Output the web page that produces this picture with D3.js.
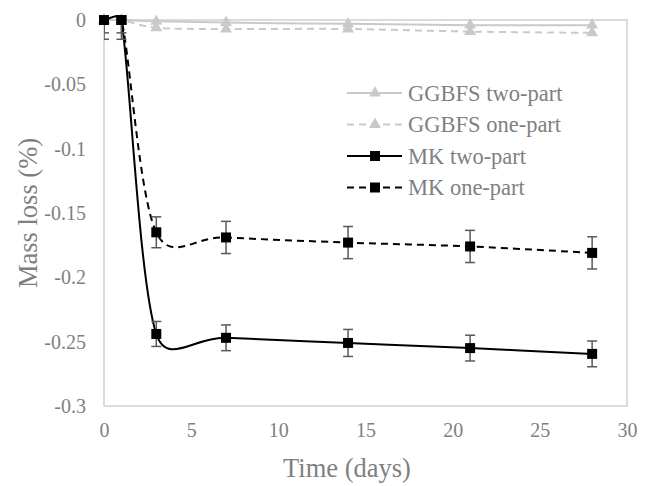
<!DOCTYPE html>
<html>
<head>
<meta charset="utf-8">
<script src="https://cdn.jsdelivr.net/npm/d3@7"></script>
<style>
  body { margin: 0; background: #fff; }
  svg text { font-family: 'Liberation Serif', 'Times New Roman', Times, serif !important; fill: #7f7f7f; }
</style>
</head>
<body>
<div id="chart"></div>
<script>
// data
const days = [0, 1, 3, 7, 14, 21, 28]
const ggbfsTwo = [0, 0, -0.001, -0.002, -0.003, -0.004, -0.004]
const ggbfsOne = [0, 0, -0.006, -0.007, -0.007, -0.009, -0.010]
const mkTwo = [0, 0, -0.244, -0.247, -0.251, -0.255, -0.2595]
const mkTwoErr = [0.01, 0.01, 0.0097, 0.01, 0.0105, 0.01, 0.01]
const mkOne = [0, 0, -0.165, -0.169, -0.173, -0.176, -0.181]
const mkOneErr = [0.015, 0.015, 0.012, 0.0125, 0.0125, 0.0125, 0.0125]
const xTicks = [0, 5, 10, 15, 20, 25, 30]
const yTicks = [0, -0.05, -0.1, -0.15, -0.2, -0.25, -0.3]

const series = [
    { name: "GGBFS two-part", values: ggbfsTwo, err: null, color: "#c9c9c9", dash: null, marker: "triangle" },
    { name: "GGBFS one-part", values: ggbfsOne, err: null, color: "#c9c9c9", dash: "7,5", marker: "triangle" },
    { name: "MK two-part", values: mkTwo, err: mkTwoErr, color: "#000", dash: null, marker: "square" },
    { name: "MK one-part", values: mkOne, err: mkOneErr, color: "#000", dash: "7,5", marker: "square" }
]

const W = 646, H = 486
const MARGIN = { LEFT: 104, RIGHT: 19, TOP: 20, BOTTOM: 80 }
const WIDTH = W - MARGIN.LEFT - MARGIN.RIGHT
const HEIGHT = H - MARGIN.TOP - MARGIN.BOTTOM

const svg = d3.select("#chart").append("svg")
    .attr("width", W)
    .attr("height", H)

const g = svg.append("g")
    .attr("transform", `translate(${MARGIN.LEFT}, ${MARGIN.TOP})`)

const x = d3.scaleLinear().domain([0, 30]).range([0, WIDTH])
const y = d3.scaleLinear().domain([-0.3, 0]).range([HEIGHT, 0])

// plot border
g.append("rect")
    .attr("width", WIDTH)
    .attr("height", HEIGHT)
    .attr("fill", "none")
    .attr("stroke", "#d0d0d0")
    .attr("stroke-width", 1.5)

// axes (labels only, lines come from the border)
const xAxis = g.append("g")
    .attr("transform", `translate(0, ${HEIGHT})`)
    .call(d3.axisBottom(x).tickValues(xTicks).tickSize(0).tickPadding(17).tickFormat(d3.format("d")))
const yAxis = g.append("g")
    .call(d3.axisLeft(y).tickValues(yTicks).tickSize(0).tickPadding(18).tickFormat(d => d === 0 ? "0" : String(d)))
xAxis.select(".domain").remove()
yAxis.select(".domain").remove()
g.selectAll(".tick text")
    .style("font-size", "20px")

// titles
svg.append("text")
    .attr("x", 347)
    .attr("y", 477)
    .attr("text-anchor", "middle")
    .style("font-size", "26.5px")
    .text("Time (days)")
svg.append("text")
    .attr("transform", `translate(37, ${MARGIN.TOP + HEIGHT / 2}) rotate(-90)`)
    .attr("text-anchor", "middle")
    .style("font-size", "26.5px")
    .text("Mass loss (%)")

// clip for error bars
svg.append("defs").append("clipPath").attr("id", "plot-clip")
    .append("rect").attr("width", WIDTH).attr("height", HEIGHT)

// spreadsheet-style smoothed line: bezier arms of 1/6 of the neighbour chord,
// capped at half the segment length
function smoothPath(pts) {
    const p = d3.path()
    const dist = (a, b) => Math.hypot(b[0] - a[0], b[1] - a[1])
    p.moveTo(pts[0][0], pts[0][1])
    for (let i = 0; i < pts.length - 1; i++) {
        const p0 = pts[Math.max(i - 1, 0)], p1 = pts[i], p2 = pts[i + 1], p3 = pts[Math.min(i + 2, pts.length - 1)]
        const d12 = dist(p1, p2), d02 = dist(p0, p2), d13 = dist(p1, p3)
        const f1 = d02 > 0 ? Math.min(1 / 6, 0.5 * d12 / d02) : 0
        const f2 = d13 > 0 ? Math.min(1 / 6, 0.5 * d12 / d13) : 0
        p.bezierCurveTo(
            p1[0] + (p2[0] - p0[0]) * f1, p1[1] + (p2[1] - p0[1]) * f1,
            p2[0] - (p3[0] - p1[0]) * f2, p2[1] - (p3[1] - p1[1]) * f2,
            p2[0], p2[1])
    }
    return p.toString()
}

const triangle = d3.symbol().type(d3.symbolTriangle).size(62)

series.forEach(s => {
    const pts = days.map((d, i) => ({ day: d, v: s.values[i], e: s.err ? s.err[i] : 0 }))

    g.append("path")
        .attr("fill", "none")
        .attr("stroke", s.color)
        .attr("stroke-width", 2)
        .attr("stroke-dasharray", s.dash)
        .attr("d", smoothPath(pts.map(d => [x(d.day), y(d.v)])))

    if (s.err) {
        const eb = g.append("g").attr("clip-path", "url(#plot-clip)")
            .attr("stroke", "#595959")
            .attr("stroke-width", 1.5)
        eb.selectAll("line.v").data(pts).enter().append("line")
            .attr("x1", d => x(d.day)).attr("x2", d => x(d.day))
            .attr("y1", d => y(d.v + d.e)).attr("y2", d => y(d.v - d.e))
        eb.selectAll("line.t").data(pts).enter().append("line")
            .attr("x1", d => x(d.day) - 5).attr("x2", d => x(d.day) + 5)
            .attr("y1", d => y(d.v + d.e)).attr("y2", d => y(d.v + d.e))
        eb.selectAll("line.b").data(pts).enter().append("line")
            .attr("x1", d => x(d.day) - 5).attr("x2", d => x(d.day) + 5)
            .attr("y1", d => y(d.v - d.e)).attr("y2", d => y(d.v - d.e))
    }

    if (s.marker === "square") {
        g.selectAll(null).data(pts).enter().append("rect")
            .attr("x", d => x(d.day) - 5)
            .attr("y", d => y(d.v) - 5)
            .attr("width", 10)
            .attr("height", 10)
            .attr("fill", s.color)
    } else {
        g.selectAll(null).data(pts).enter().append("path")
            .attr("d", triangle)
            .attr("transform", d => `translate(${x(d.day)}, ${y(d.v)})`)
            .attr("fill", s.color)
    }
})

// legend
const legend = svg.append("g").attr("transform", "translate(347, 93)")
series.forEach((s, i) => {
    const row = legend.append("g").attr("transform", `translate(0, ${i * 31.5})`)
    row.append("line")
        .attr("x1", 0).attr("x2", 55)
        .attr("stroke", s.color)
        .attr("stroke-width", 2)
        .attr("stroke-dasharray", s.dash ? "7,5" : null)
    if (s.marker === "square") {
        row.append("rect").attr("x", 23).attr("y", -5).attr("width", 10).attr("height", 10).attr("fill", s.color)
    } else {
        row.append("path").attr("d", triangle).attr("transform", "translate(28, 0)").attr("fill", s.color)
    }
    row.append("text")
        .attr("x", 61)
        .attr("y", 7.5)
        .style("font-size", "22.5px")
        .text(s.name)
})
</script>
</body>
</html>
